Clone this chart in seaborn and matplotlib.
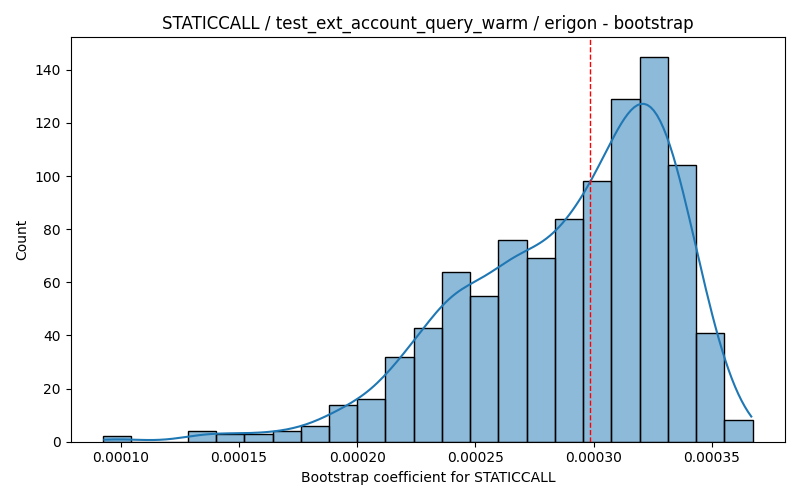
import numpy as np
import pandas as pd
import seaborn as sns
import matplotlib
matplotlib.use('Agg')
import matplotlib.pyplot as plt

# bootstrap histogram (23 equal bins)
bin_lo = 0.0000925
bin_hi = 0.0003672
counts = [2, 0, 0, 4, 3, 3, 4, 6, 14, 16, 32, 43, 64, 55, 76, 69, 84, 98, 129, 145, 104, 41, 8]
point_estimate = 0.0002986

n_bins = len(counts)
edges = np.linspace(bin_lo, bin_hi, n_bins + 1)
centers = (edges[:-1] + edges[1:]) / 2
df = pd.DataFrame({'coef': centers, 'n': counts})

# weighted kde uses the effective sample size -> scale bandwidth back to what
# 1000 raw samples would give, and stretch it out to the outer bin edges
w = np.array(counts, dtype=float)
n_eff = w.sum() ** 2 / (w ** 2).sum()
bw_adjust = (n_eff / w.sum()) ** 0.2 * 0.95
mean = np.sum(w * centers) / w.sum()
std = np.sqrt(np.sum(w * (centers - mean) ** 2) / w.sum())
bw = std * w.sum() ** (-1 / 5)
cut = 0.6 * (edges[1] - edges[0]) / 2 / bw

plt.figure(figsize=(8, 5))
ax = sns.histplot(data=df, x='coef', weights='n', bins=n_bins, binrange=(bin_lo, bin_hi),
                  kde=True, kde_kws={'cut': cut, 'bw_adjust': bw_adjust})
ax.axvline(point_estimate, color='red', linestyle='--', linewidth=1)
ax.set_xlim(bin_lo - 0.05 * (bin_hi - bin_lo), bin_hi + 0.05 * (bin_hi - bin_lo))
ax.set_title('STATICCALL / test_ext_account_query_warm / erigon - bootstrap')
ax.set_xlabel('Bootstrap coefficient for STATICCALL')
ax.set_ylabel('Count')
plt.tight_layout()
plt.savefig('out.png', dpi=100)
